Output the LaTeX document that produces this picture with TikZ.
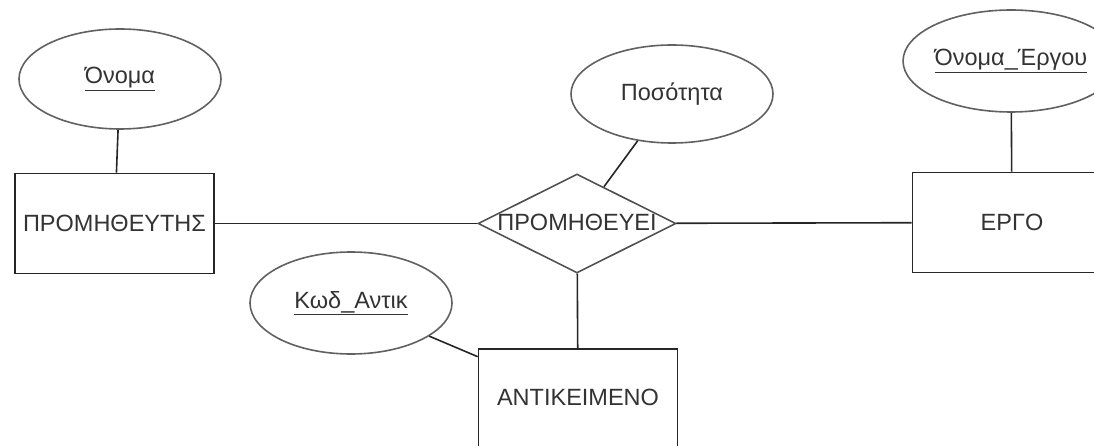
\documentclass[tikz,border=0pt]{standalone}
\usepackage{fontspec}
\setmainfont{Liberation Sans}
\usetikzlibrary{shapes.geometric}
\begin{document}
\begin{tikzpicture}[x=1pt,y=-1pt,
  every node/.style={font=\fontsize{23.5}{27}\selectfont, text=black!80},
  entity/.style={draw=black!85, line width=1.6pt, rectangle, minimum width=199pt, minimum height=100pt, inner sep=0pt},
  attr/.style={draw=black!62, line width=1.6pt, ellipse, minimum width=202pt, minimum height=100pt, inner sep=0pt},
  rel/.style={draw=black!68, line width=1.6pt, diamond, minimum width=198pt, minimum height=99pt, inner sep=0pt},
  link/.style={draw=black!85, line width=1.6pt}]
  \useasboundingbox (0,0) rectangle (1094,446);
  \clip (0,0) rectangle (1094,446);
  \fill[white] (0,0) rectangle (1094,446);

  % entities
  \node[entity] (prom) at (114.5,223.5) {ΠΡΟΜΗΘΕΥΤΗΣ};
  \node[entity] (ergo) at (1012,222.5) {ΕΡΓΟ};
  \node[entity] (antik) at (578,399) {};
  \node at (578,397) (antiktxt) {ΑΝΤΙΚΕΙΜΕΝΟ};

  % relationship
  \node[rel] (supplies) at (577,223.5) {};
  \node at (577,222) (suppliestxt) {ΠΡΟΜΗΘΕΥΕΙ};

  % attributes
  \node[attr] (onoma) at (120,79) {\underline{Όνομα}};
  \node[attr, minimum height=98pt] (posotita) at (672,94) {Ποσότητα};
  \node[attr, minimum height=102pt] (onomaergou) at (1011,61) {\underline{Όνομα\_Έργου}};
  \node[attr, minimum height=102pt] (kod) at (351,303) {\underline{Κωδ\_Αντικ}};

  % connectors
  \draw[link] (onoma) -- (prom);
  \draw[link] (prom) -- (supplies);
  \draw[link] (supplies) -- (ergo);
  \draw[link] (posotita) -- (supplies);
  \draw[link] (supplies) -- (antik);
  \draw[link] (kod) -- (antik);
  \draw[link] (onomaergou) -- (ergo);
\end{tikzpicture}
\end{document}
